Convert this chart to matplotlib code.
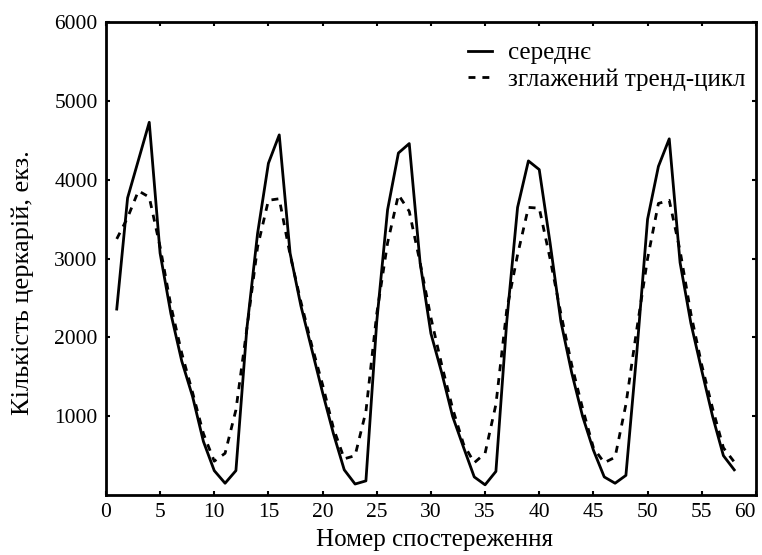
import numpy as np
import matplotlib.pyplot as plt

plt.rcParams['font.family'] = ['Liberation Serif', 'DejaVu Serif']

# observation numbers
obs = list(range(1, 59))

# mean values
mean_vals = [2360, 3770, 4250, 4730, 3070, 2300, 1700, 1250, 680, 310,
             150, 310, 2100, 3320, 4210, 4570, 3070, 2400, 1850, 1300,
             780, 320, 140, 180, 2200, 3620, 4340, 4460, 2950, 2050,
             1550, 1000, 610, 230, 130, 300, 2200, 3650, 4240, 4130,
             3200, 2200, 1550, 1000, 570, 230, 150, 250, 1800, 3500,
             4170, 4520, 2950, 2180, 1580, 1000, 500, 320]

# smoothed trend-cycle
trend_vals = [3250, 3520, 3860, 3780, 3150, 2400, 1800, 1300, 780, 430,
              530, 1080, 2100, 3150, 3740, 3760, 3050, 2450, 1900, 1400,
              850, 460, 500, 1060, 2300, 3200, 3810, 3600, 2950, 2250,
              1650, 1100, 650, 410, 530, 1150, 2350, 3050, 3650, 3640,
              3000, 2300, 1650, 1100, 600, 410, 480, 1150, 2100, 3000,
              3700, 3740, 3100, 2300, 1650, 1100, 600, 420]

xticks = [0, 5, 10, 15, 20, 25, 30, 35, 40, 45, 50, 55, 60]
yticks = [1000, 2000, 3000, 4000, 5000, 6000]

fig = plt.figure(figsize=(7.62, 5.55), dpi=100)
ax = fig.add_axes([0.139, 0.108, 0.853, 0.852])

ax.plot(obs, mean_vals, color='black', lw=2.0, label='середнє')
ax.plot(obs, trend_vals, color='black', lw=2.0, dashes=(2.5, 2.5),
        label='зглажений тренд-цикл')

ax.set_xlim(0, 60)
ax.set_ylim(0, 6000)
ax.set_xticks(xticks)
ax.set_yticks(yticks)
ax.tick_params(direction='in', length=3, width=1.5, top=True, right=True,
               labelsize=15.5, pad=6)
# last x label kept inside the picture
ax.get_xticklabels()[-1].set_horizontalalignment('right')
for s in ax.spines.values():
    s.set_linewidth(2)

ax.set_xlabel('Номер спостереження', fontsize=18)
ax.set_ylabel('Кількість церкарій, екз.', fontsize=19)
ax.xaxis.set_label_coords(0.506, -0.072)
ax.yaxis.set_label_coords(-0.11, 0.45)

ax.legend(loc='upper right', frameon=False, fontsize=18, handlelength=0.95,
          handletextpad=0.64, labelspacing=0.15, borderpad=0.4,
          bbox_to_anchor=(1.018, 1.006))

fig.savefig('out.png', dpi=100)
